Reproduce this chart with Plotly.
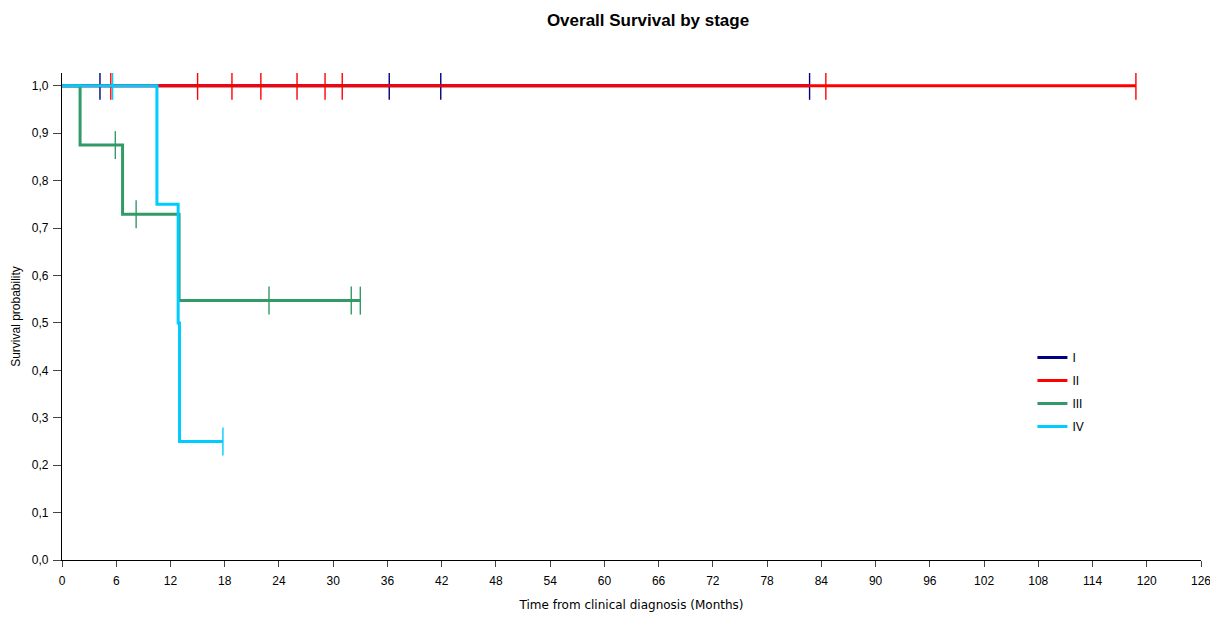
import plotly.graph_objects as go

# ---- data (months, survival probability) ----
stage_names = ["I", "II", "III", "IV"]
colors = ["#000080", "#FF0000", "#339966", "#00CCFF"]

s1_times = [0, 82.7]
s1_surv = [1.0, 1.0]
s1_censor = [4.2, 36.2, 41.9, 82.7]

s2_times = [0, 118.8]
s2_surv = [1.0, 1.0]
s2_censor = [5.4, 15.0, 18.8, 22.0, 26.0, 29.1, 31.0, 84.5, 118.8]

s3_times = [0, 2.0, 6.7, 12.95, 33.0]
s3_surv = [1.0, 0.875, 0.729, 0.547, 0.547]
s3_censor = [5.9, 8.2, 22.9, 32.0, 33.0]

s4_times = [0, 10.5, 12.85, 13.0, 17.8]
s4_surv = [1.0, 0.75, 0.5, 0.25, 0.25]
s4_censor = [5.6, 17.8]

x_ticks = list(range(0, 127, 6))
y_ticks = [i / 10 for i in range(0, 11)]

series = [
    (s1_times, s1_surv, s1_censor),
    (s2_times, s2_surv, s2_censor),
    (s3_times, s3_surv, s3_censor),
    (s4_times, s4_surv, s4_censor),
]


def step_value(times, surv, t):
    v = surv[0]
    for ti, si in zip(times, surv):
        if ti <= t:
            v = si
    return v


fig = go.Figure()
for i, (name, col, (t, s, c)) in enumerate(zip(stage_names, colors, series)):
    fig.add_trace(go.Scatter(
        x=t, y=s, mode="lines", name=name, line=dict(color=col, width=3, shape="hv"),
        legendgroup=name, showlegend=True, hoverinfo="skip"))
    fig.add_trace(go.Scatter(
        x=c, y=[step_value(t, s, ci) for ci in c], mode="markers", name=name,
        legendgroup=name, showlegend=False,
        marker=dict(symbol="line-ns", size=20, color=col, line=dict(color=col, width=1.4))))

font_family = "Liberation Sans, Arial, sans-serif"

# page body has an 8px margin: size the figure so the plot area lands on the reference pixels
fig.update_layout(
    width=1210, height=609,
    paper_bgcolor="white", plot_bgcolor="white",
    margin=dict(l=54, r=17, t=65, b=57),
    separators=",.",
    font=dict(family=font_family, size=12, color="black"),
    title=dict(text="<b>Overall Survival by stage</b>", x=640 / 1210, xanchor="center",
               y=1 - 12 / 609, yanchor="middle", yref="container",
               font=dict(family=font_family, size=17, color="black")),
    xaxis=dict(range=[0, 126], tickvals=x_ticks, ticks="outside", ticklen=6,
               ticklabelstandoff=3,
               showline=True, linecolor="black", linewidth=1.3, showgrid=False, zeroline=False,
               tickfont=dict(size=12), automargin=False,
               title=dict(text="Time from clinical diagnosis (Months)",
                          font=dict(family="DejaVu Sans, sans-serif", size=12), standoff=14)),
    yaxis=dict(range=[0, 1.027], tickvals=y_ticks, tickformat=".1f", ticks="outside", ticklen=8,
               ticklabelstandoff=2,
               showline=True, linecolor="black", linewidth=1.3, showgrid=False, zeroline=False,
               tickfont=dict(size=12), automargin=False,
               title=dict(text="Survival probability", font=dict(size=12), standoff=8)),
    legend=dict(x=0.852, y=0.345, xanchor="left", yanchor="middle", traceorder="grouped",
                tracegroupgap=4, itemwidth=30, bgcolor="rgba(0,0,0,0)",
                font=dict(size=12)),
    showlegend=True,
)

fig.write_html("out.html")
